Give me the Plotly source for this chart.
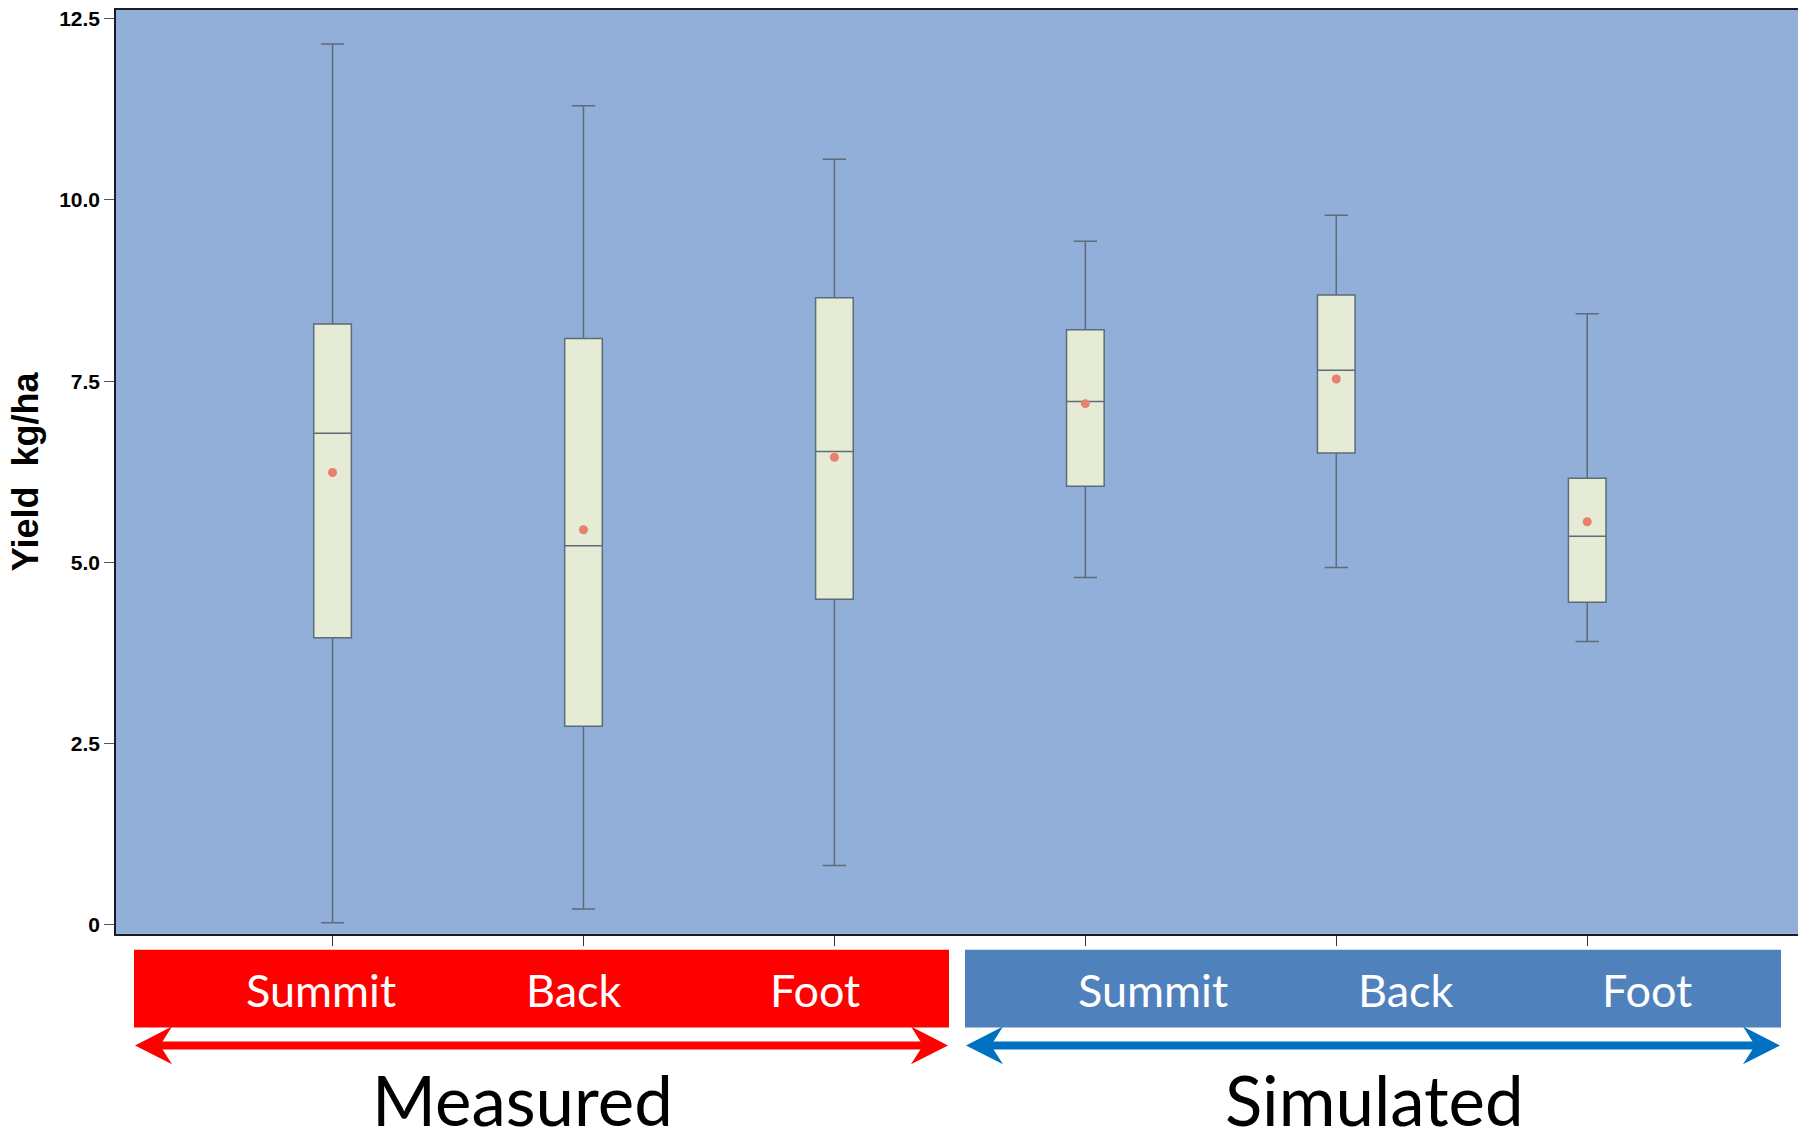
import plotly.graph_objects as go

# ---------------- data ----------------
groups = ["Measured", "Measured", "Measured", "Simulated", "Simulated", "Simulated"]
positions = ["Summit", "Back", "Foot", "Summit", "Back", "Foot"]
lower_whisker = [0.03, 0.22, 0.82, 4.79, 4.93, 3.91]
q1_values = [3.96, 2.74, 4.49, 6.05, 6.51, 4.45]
median_values = [6.78, 5.23, 6.53, 7.22, 7.65, 5.36]
q3_values = [8.29, 8.09, 8.65, 8.21, 8.69, 6.16]
upper_whisker = [12.15, 11.30, 10.56, 9.43, 9.79, 8.43]
mean_values = [6.24, 5.45, 6.45, 7.19, 7.53, 5.56]
y_tick_values = [0, 2.5, 5.0, 7.5, 10.0, 12.5]
y_tick_labels = ["0", "2.5", "5.0", "7.5", "10.0", "12.5"]
group_labels = ["Measured", "Simulated"]

W, H = 1798, 1133
x_idx = list(range(len(positions)))

fig = go.Figure()
fig.add_trace(go.Box(
    x=x_idx, q1=q1_values, median=median_values, q3=q3_values,
    lowerfence=lower_whisker, upperfence=upper_whisker,
    width=0.15, whiskerwidth=0.62,
    fillcolor="#E6EBD5", line=dict(color="#5E6B78", width=1.5),
    boxpoints=False, showlegend=False, hoverinfo="skip",
))
fig.add_trace(go.Scatter(
    x=x_idx, y=mean_values, mode="markers",
    marker=dict(color="#E8806F", size=9), showlegend=False,
))

def px(x):
    return x / W

def py(y):
    return 1 - y / H

shapes = []
bands = [(134, 949, "#FF0000", "#FF0000"), (965, 1781, "#4F81BD", "#0070C0")]
for x0, x1, band_col, arrow_col in bands:
    shapes.append(dict(type="rect", xref="paper", yref="paper",
                       x0=px(x0), x1=px(x1), y0=py(1029), y1=py(951),
                       fillcolor=band_col, line=dict(width=0), layer="above"))
    yc = 1047
    shapes.append(dict(type="line", xref="paper", yref="paper",
                       x0=px(x0 + 20), x1=px(x1 - 20), y0=py(yc), y1=py(yc),
                       line=dict(color=arrow_col, width=8)))
    pts_l = [(x0 + 1, yc), (x0 + 38, yc - 19), (x0 + 26, yc), (x0 + 38, yc + 19)]
    pts_r = [(x1 - 1, yc), (x1 - 38, yc - 19), (x1 - 26, yc), (x1 - 38, yc + 19)]
    for pts in (pts_l, pts_r):
        path = "M " + " L ".join(f"{px(a):.5f},{py(b):.5f}" for a, b in pts) + " Z"
        shapes.append(dict(type="path", xref="paper", yref="paper", path=path,
                           fillcolor=arrow_col, line=dict(width=0)))

annotations = []
label_shift = [-12, -9, -19, 68, 70, 60]
for i, name in enumerate(positions):
    annotations.append(dict(x=i, y=py(991), xref="x", yref="paper", text=name,
                            showarrow=False, xshift=label_shift[i],
                            font=dict(family="Lato", size=45, color="white"),
                            xanchor="center", yanchor="middle"))
for xc, name in zip([522, 1374], group_labels):
    annotations.append(dict(x=px(xc), y=py(1101), xref="paper", yref="paper", text=name,
                            showarrow=False,
                            font=dict(family="Lato", size=69, color="black"),
                            xanchor="center", yanchor="middle"))

fig.update_layout(
    width=W, height=H,
    margin=dict(l=0, r=0, t=0, b=0),
    paper_bgcolor="white",
    plot_bgcolor="#91AFD9",
    shapes=shapes,
    annotations=annotations,
    xaxis=dict(domain=[116 / W, 1], range=[-0.863, 5.84],
               showgrid=False, zeroline=False, showticklabels=False,
               ticks="outside", ticklen=10, tickcolor="#333", tickvals=x_idx,
               showline=True, linecolor="#1a1a2a", linewidth=1.5, mirror=True),
    yaxis=dict(domain=[(H - 935) / H, (H - 7) / H], range=[-0.124, 12.62],
               showgrid=False, zeroline=False,
               tickvals=y_tick_values, ticktext=y_tick_labels,
               ticks="outside", ticklen=10, tickcolor="#555",
               tickfont=dict(family="Liberation Sans", size=21, color="black", weight="bold"),
               showline=True, linecolor="#1a1a2a", linewidth=1.5,
               title=dict(text="Yield  kg/ha", standoff=10,
                          font=dict(family="Liberation Sans", size=36, color="black", weight="bold"))),
)

fig.write_html("out.html")
